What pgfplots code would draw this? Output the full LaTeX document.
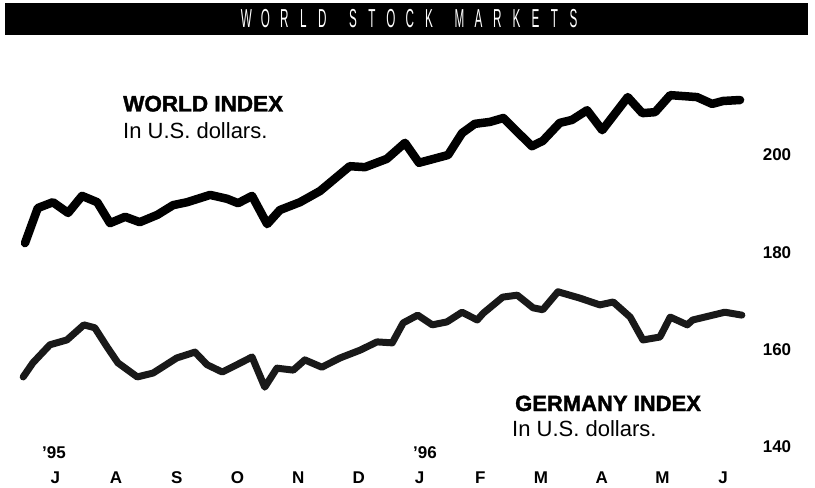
\documentclass[border=0pt]{standalone}
\usepackage{fontspec}
\setmainfont{Liberation Sans}
\newfontfamily\heavyfont[FakeBold=1.6]{Liberation Sans Bold}
\usepackage{graphicx}
\usepackage{pgfplots}
\pgfplotsset{compat=1.18}
\usepackage{pgfplotstable}

\pgfplotstableread{
m v
0.00 181.9
0.21 189.1
0.46 190.3
0.71 188.1
0.94 191.6
1.19 190.3
1.40 186.0
1.65 187.3
1.89 186.2
2.18 187.7
2.44 189.7
2.67 190.3
3.05 191.8
3.33 191.0
3.51 190.1
3.74 191.6
3.99 185.8
4.20 188.7
4.53 190.3
4.86 192.6
5.35 197.7
5.60 197.5
5.96 199.2
6.26 202.5
6.49 198.4
6.97 200.0
7.20 204.5
7.41 206.4
7.66 206.8
7.88 207.6
8.35 201.8
8.53 202.9
8.81 206.6
9.01 207.2
9.26 209.2
9.51 205.1
9.93 211.9
10.17 208.6
10.38 208.8
10.63 212.3
11.07 211.9
11.32 210.5
11.50 211.1
11.78 211.3
}\worldtab

\pgfplotstableread{
m v
-0.03 154.4
0.13 157.3
0.41 161.0
0.69 162.0
0.97 165.1
1.15 164.5
1.35 160.6
1.53 157.3
1.85 154.4
2.11 155.2
2.50 158.3
2.80 159.5
3.00 156.9
3.25 155.4
3.49 156.9
3.74 158.5
3.95 152.3
4.15 156.2
4.42 155.8
4.61 157.9
4.89 156.4
5.19 158.3
5.52 159.9
5.80 161.6
6.05 161.4
6.23 165.5
6.47 167.1
6.71 165.1
6.95 165.7
7.20 167.7
7.45 166.1
7.55 167.5
7.87 170.8
8.11 171.2
8.37 168.6
8.53 168.2
8.78 171.9
9.14 170.6
9.47 169.2
9.69 169.8
9.97 166.7
10.18 162.0
10.46 162.6
10.63 166.7
10.91 165.1
11.00 166.1
11.53 167.7
11.81 167.1
}\germanytab

\newcommand\tl[1]{\makebox[19bp]{\scalebox{0.45}[1]{#1}}}
\newcommand\tsp{\hspace*{11.5bp}}

\begin{document}
\begin{tikzpicture}
\begin{axis}[
  width=815bp, height=486bp, scale only axis,
  xmin=-0.412, xmax=13.015, ymin=131.99, ymax=231.85,
  axis line style={draw=none}, tick style={draw=none}, major tick length=0pt,
  xtick={0.5,1.5,...,11.5},
  xticklabels={J,A,S,O,N,D,J,F,M,A,M,J},
  ytick={140,160,180,200},
  yticklabels={140,160,180,200},
  yticklabel pos=right,
  xticklabel style={anchor=center, yshift=8bp, font=\fontsize{17bp}{19bp}\selectfont\bfseries},
  yticklabel style={anchor=center, xshift=-38bp, font=\fontsize{17bp}{19bp}\selectfont\bfseries},
  clip=false,
]
\fill[black] (rel axis cs:0.006,0.928) rectangle (rel axis cs:0.992,0.994);
\node[text=white, inner sep=0pt, font=\fontsize{26bp}{28bp}\selectfont] at (rel axis cs:0.503,0.961)
  {\tl{W}\tl{O}\tl{R}\tl{L}\tl{D}\tsp\tl{S}\tl{T}\tl{O}\tl{C}\tl{K}\tsp\tl{M}\tl{A}\tl{R}\tl{K}\tl{E}\tl{T}\tl{S}};

\addplot[black!90, line width=7bp, line join=round, line cap=round] table[x=m, y=v] {\germanytab};
\addplot[black, line width=8.5bp, line join=round, line cap=round] table[x=m, y=v] {\worldtab};

\node[anchor=base west, inner sep=0pt, font=\fontsize{22.5bp}{24bp}\selectfont\heavyfont] at (axis cs:1.614,208.94) {WORLD INDEX};
\node[anchor=base west, inner sep=0pt, font=\fontsize{22bp}{24bp}\selectfont] at (axis cs:1.614,203.49) {In U.S. dollars.};
\node[anchor=base west, inner sep=0pt, font=\fontsize{22bp}{24bp}\selectfont\heavyfont] at (axis cs:8.072,147.40) {GERMANY INDEX};
\node[anchor=base west, inner sep=0pt, font=\fontsize{22bp}{24bp}\selectfont] at (axis cs:8.023,142.06) {In U.S. dollars.};
\node[inner sep=0pt, font=\fontsize{17bp}{19bp}\selectfont\bfseries] at (axis cs:0.478,138.77) {’95};
\node[inner sep=0pt, font=\fontsize{17bp}{19bp}\selectfont\bfseries] at (axis cs:6.59,138.77) {’96};
\end{axis}
\end{tikzpicture}
\end{document}
